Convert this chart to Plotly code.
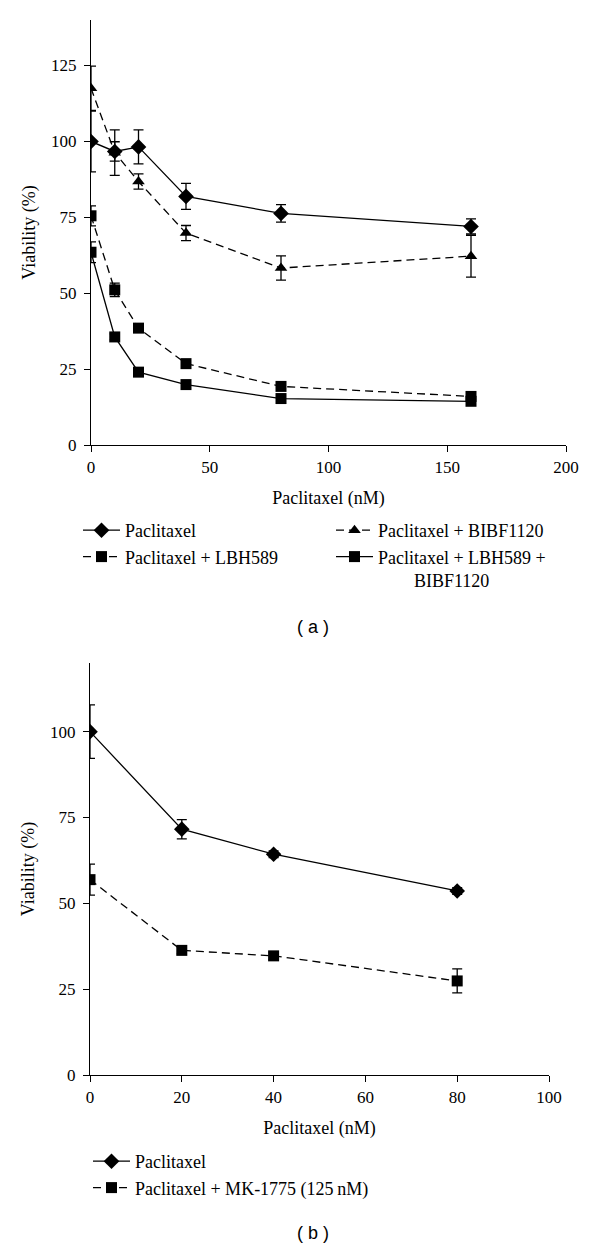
import plotly.graph_objects as go

# ---------------- data (a) ----------------
conc_a = [0, 10, 20, 40, 80, 160]
pac_a = [100, 96.7, 98.2, 81.9, 76.3, 72.0]
pac_a_err = [10, 3.2, 5.6, 4.3, 2.9, 2.5]
bibf_a = [117.5, 96.3, 86.8, 69.8, 58.3, 62.2]
bibf_a_err = [7.3, 7.5, 2.5, 2.5, 4.0, 6.9]
lbh_a = [75.5, 51.1, 38.5, 26.8, 19.3, 16.0]
lbh_a_err = [3.3, 2.2, 1.2, 1.2, 1.0, 1.0]
combo_a = [63.5, 35.6, 24.0, 19.9, 15.3, 14.4]
combo_a_err = [3.4, 1.0, 1.0, 1.0, 1.0, 1.0]

# ---------------- data (b) ----------------
conc_b = [0, 20, 40, 80]
pac_b = [100, 71.6, 64.3, 53.6]
pac_b_err = [7.8, 2.8, 1.0, 1.0]
mk_b = [56.9, 36.3, 34.7, 27.4]
mk_b_err = [4.5, 1.0, 1.0, 3.5]

names_a = ["Paclitaxel", "Paclitaxel + BIBF1120", "Paclitaxel + LBH589",
           "Paclitaxel + LBH589 +<br>" + "\u00a0" * 8 + "BIBF1120"]
names_b = ["Paclitaxel", "Paclitaxel + MK-1775 (125\u2009nM)"]

# page is rendered with the browser's default 8px body margin
OFF = 8
W, H = 600 - OFF, 1249 - OFF


def px(x):
    return (x - OFF) / W


def py(y):
    return 1 - (y - OFF) / H


SERIF = "Liberation Serif, Times New Roman, serif"
LW = 1.3
DASH = "8px,5px"

fig = go.Figure()


def add(x, y, err, name, symbol, size, dash, xa, ya, legend):
    fig.add_trace(go.Scatter(
        x=x, y=y, name=name, mode="lines+markers",
        line=dict(color="black", width=LW, dash=dash),
        marker=dict(symbol=symbol, size=size, color="black"),
        error_y=dict(type="data", array=err, visible=True, color="black",
                     thickness=LW, width=5),
        xaxis=xa, yaxis=ya, legend=legend,
    ))


add(conc_a, pac_a, pac_a_err, names_a[0], "diamond", 12, "solid", "x", "y", "legend")
add(conc_a, lbh_a, lbh_a_err, names_a[2], "square", 11, DASH, "x", "y", "legend")
add(conc_a, bibf_a, bibf_a_err, names_a[1], "triangle-up", 11, DASH, "x", "y", "legend2")
add(conc_a, combo_a, combo_a_err, names_a[3], "square", 11, "solid", "x", "y", "legend2")
add(conc_b, pac_b, pac_b_err, names_b[0], "diamond", 12, "solid", "x2", "y2", "legend3")
add(conc_b, mk_b, mk_b_err, names_b[1], "square", 11, DASH, "x2", "y2", "legend3")

axis_common = dict(
    showline=True, linecolor="black", linewidth=LW, ticks="outside",
    ticklen=6, tickwidth=LW, tickcolor="black", showgrid=False, zeroline=False,
    automargin=False,
    tickfont=dict(family=SERIF, size=17, color="black"),
    title_font=dict(family=SERIF, size=18, color="black"),
)

legend_common = dict(
    font=dict(family=SERIF, size=18, color="black"),
    bgcolor="rgba(0,0,0,0)", borderwidth=0, xref="paper", yref="paper",
    xanchor="left", yanchor="top", itemwidth=37, tracegroupgap=0,
    valign="top", itemclick=False,
)

fig.update_layout(
    width=W, height=H,
    margin=dict(l=0, r=0, t=0, b=0, autoexpand=False),
    paper_bgcolor="white", plot_bgcolor="white",
    xaxis=dict(domain=[px(91), px(566)], range=[0, 200], tickvals=[0, 50, 100, 150, 200],
               anchor="y", title=dict(text="Paclitaxel (nM)", standoff=15), **axis_common),
    yaxis=dict(domain=[py(445), py(20)], range=[0, 140], tickvals=[0, 25, 50, 75, 100, 125],
               anchor="x", ticklabelstandoff=4,
               title=dict(text="Viability (%)", standoff=10), **axis_common),
    xaxis2=dict(domain=[px(90), px(549)], range=[0, 100], tickvals=[0, 20, 40, 60, 80, 100],
                anchor="y2", title=dict(text="Paclitaxel (nM)", standoff=15), **axis_common),
    yaxis2=dict(domain=[py(1075), py(663)], range=[0, 120], tickvals=[0, 25, 50, 75, 100],
                anchor="x2", ticklabelstandoff=4,
                title=dict(text="Viability (%)", standoff=10), **axis_common),
    legend=dict(x=px(78), y=py(512), **legend_common),
    legend2=dict(x=px(331), y=py(512), **legend_common),
    legend3=dict(x=px(88), y=py(1143), **legend_common),
    annotations=[
        dict(text="( a )", x=px(313), y=py(627), xref="paper", yref="paper",
             xanchor="center", yanchor="middle", showarrow=False,
             font=dict(family="Liberation Sans, Arial, sans-serif", size=18, color="black")),
        dict(text="( b )", x=px(313), y=py(1233), xref="paper", yref="paper",
             xanchor="center", yanchor="middle", showarrow=False,
             font=dict(family="Liberation Sans, Arial, sans-serif", size=18, color="black")),
    ],
)

fig.write_html("out.html")
